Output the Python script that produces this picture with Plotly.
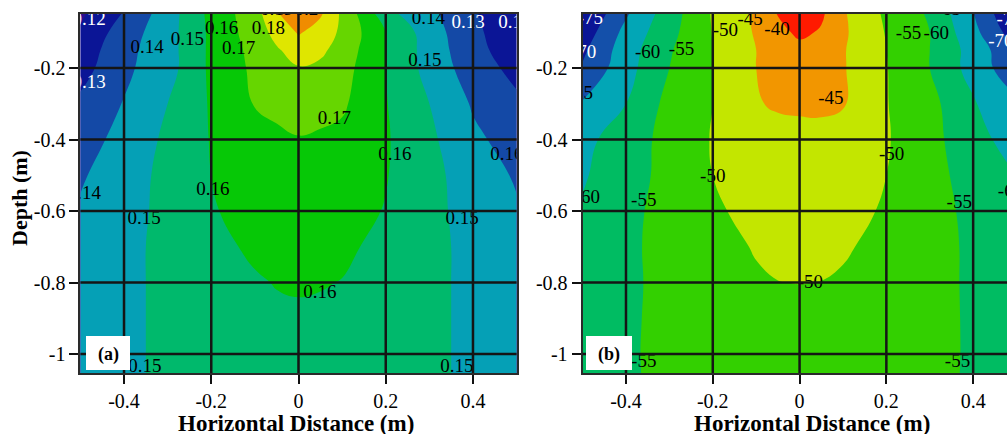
import plotly.graph_objects as go

# ---------------------------------------------------------------- grid (m)
x_pos = [-0.5, -0.4, -0.3, -0.2, -0.1, -0.05, 0.0, 0.05, 0.1, 0.2, 0.3, 0.4, 0.5]
depth = [-0.04, -0.1, -0.15, -0.2, -0.3, -0.4, -0.5, -0.6, -0.7, -0.8, -0.9, -1.0, -1.06]

# ---------------------------------------------------------------- panel (a)
field_a = [
    [0.118, 0.130, 0.145, 0.163, 0.176, 0.190, 0.201, 0.192, 0.178, 0.152, 0.142, 0.131, 0.121],
    [0.121, 0.135, 0.146, 0.162, 0.175, 0.183, 0.191, 0.186, 0.178, 0.160, 0.145, 0.132, 0.124],
    [0.124, 0.137, 0.146, 0.162, 0.173, 0.179, 0.184, 0.182, 0.176, 0.160, 0.146, 0.133, 0.125],
    [0.126, 0.138, 0.146, 0.162, 0.172, 0.176, 0.1795, 0.178, 0.174, 0.160, 0.1465, 0.135, 0.127],
    [0.132, 0.1405, 0.150, 0.161, 0.1705, 0.1725, 0.174, 0.1735, 0.1715, 0.1605, 0.150, 0.139, 0.132],
    [0.136, 0.143, 0.152, 0.1605, 0.1665, 0.168, 0.1695, 0.1685, 0.1675, 0.161, 0.152, 0.142, 0.136],
    [0.139, 0.145, 0.153, 0.160, 0.165, 0.166, 0.1665, 0.1665, 0.1655, 0.1605, 0.153, 0.145, 0.139],
    [0.141, 0.146, 0.153, 0.1592, 0.1635, 0.1645, 0.165, 0.1648, 0.1638, 0.1595, 0.153, 0.146, 0.141],
    [0.143, 0.147, 0.153, 0.158, 0.1612, 0.1625, 0.163, 0.1628, 0.1614, 0.158, 0.153, 0.147, 0.143],
    [0.144, 0.147, 0.153, 0.157, 0.1593, 0.1603, 0.1607, 0.1604, 0.1598, 0.157, 0.153, 0.147, 0.144],
    [0.145, 0.147, 0.153, 0.156, 0.158, 0.1588, 0.159, 0.1588, 0.158, 0.156, 0.153, 0.147, 0.145],
    [0.145, 0.147, 0.153, 0.1555, 0.157, 0.158, 0.1583, 0.158, 0.157, 0.1555, 0.153, 0.147, 0.145],
    [0.145, 0.147, 0.153, 0.155, 0.1565, 0.1575, 0.158, 0.1577, 0.1567, 0.155, 0.153, 0.147, 0.145],
]
levels_a = [0.12, 0.13, 0.14, 0.15, 0.16, 0.17, 0.18, 0.19, 0.20]
colors_a = ["#2c0c8e", "#0b1596", "#1449a6", "#05a0b6", "#00b96c", "#06c806",
            "#66d600", "#dfe600", "#f08c00", "#ff2000"]

lab_a_x = [-0.48, -0.347, -0.255, -0.176, -0.069, -0.137, -0.05, 0.018, 0.298, 0.389,
           0.496, 0.29, -0.48, 0.082, 0.221, 0.478, -0.491, -0.196, -0.354, 0.375,
           0.049, -0.352, 0.363]
lab_a_y = [-0.066, -0.146, -0.122, -0.092, -0.092, -0.147, -0.038, -0.038, -0.063, -0.0755,
           -0.0755, -0.182, -0.243, -0.344, -0.443, -0.443, -0.554, -0.543, -0.624, -0.624,
           -0.831, -1.036, -1.036]
lab_a_val = [0.12, 0.14, 0.15, 0.16, 0.18, 0.17, 0.19, 0.2, 0.14, 0.13,
             0.12, 0.15, 0.13, 0.17, 0.16, 0.16, 0.14, 0.16, 0.15, 0.15,
             0.16, 0.15, 0.15]
lab_a_white = [0.12, 0.13]

# ---------------------------------------------------------------- panel (b)
field_b = [
    [-75.5, -66, -57.5, -49.5, -44, -39.5, -37, -39, -44.5, -51, -55.8, -65, -76],
    [-73, -63.5, -56.5, -49.8, -44.5, -41.5, -39, -40.5, -44.2, -50.3, -55, -63.5, -73],
    [-71, -62.3, -55.5, -50, -45, -43, -41.5, -42.5, -44.6, -50, -55, -62, -69.5],
    [-69.5, -61.8, -55, -50, -45, -44, -43, -43.3, -44.6, -49.8, -55, -62, -68.5],
    [-64.5, -60, -53.5, -50, -45.3, -44.5, -44.2, -44.2, -44.6, -49.8, -53.5, -59.5, -64],
    [-61.5, -57.3, -53.5, -49.7, -47, -46.5, -46.5, -46.3, -46.8, -49.6, -53.5, -58, -62.5],
    [-60.5, -57, -53.5, -50, -48, -47.5, -47.2, -47.2, -47.8, -50, -53.3, -57, -60],
    [-59.5, -56.5, -53, -50.6, -48.8, -48.3, -48, -48, -48.5, -50.5, -53, -56.3, -59],
    [-58.5, -56, -53.3, -51.5, -49.7, -49.2, -49, -49, -49.5, -51.3, -53.3, -55.8, -58.3],
    [-58, -56, -53.5, -52, -50.5, -50.05, -49.95, -50.05, -50.5, -52, -53.5, -55.7, -58],
    [-57.8, -55.8, -53.6, -52.3, -51.3, -51, -50.9, -51, -51.3, -52.3, -53.6, -55.6, -57.8],
    [-57.5, -55.6, -53.8, -52.7, -52, -51.7, -51.6, -51.7, -52, -52.7, -53.8, -55.5, -57.5],
    [-57.4, -55.6, -53.9, -52.8, -52.1, -51.9, -51.8, -51.9, -52.1, -52.8, -53.9, -55.5, -57.4],
]
levels_b = [-75, -70, -65, -60, -55, -50, -45, -40]
colors_b = ["#0b1596", "#0b1596", "#1450aa", "#02a6b6", "#00bc62", "#33d000",
            "#c3e600", "#f29600", "#ff1a00"]

lab_b_x = [-0.482, -0.498, -0.35, -0.272, -0.171, -0.114, -0.052, 0.251, 0.315, 0.343,
           0.483, 0.464, -0.505, 0.072, 0.212, -0.2, -0.489, -0.359, 0.368, 0.486,
           0.025, -0.359, 0.364]
lab_b_y = [-0.063, -0.159, -0.159, -0.151, -0.098, -0.067, -0.095, -0.106, -0.106, -0.038,
           -0.066, -0.127, -0.273, -0.288, -0.445, -0.506, -0.565, -0.573, -0.579, -0.548,
           -0.803, -1.024, -1.024]
lab_b_val = [-75, -70, -60, -55, -50, -45, -40, -55, -60, -65,
             -75, -70, -65, -45, -50, -50, -60, -55, -55, -60,
             -50, -55, -55]
lab_b_white = [-75, -70]

# ---------------------------------------------------------------- axes / ticks
x_ticks = [-0.4, -0.2, 0.0, 0.2, 0.4]
x_ticktext = ["-0.4", "-0.2", "0", "0.2", "0.4"]
y_ticks = [-0.2, -0.4, -0.6, -0.8, -1.0]
y_ticktext = ["-0.2", "-0.4", "-0.6", "-0.8", "-1"]

W, H = 1007, 434
SERIF = "Liberation Serif, Times New Roman, serif"


def band_scale(colors):
    n = len(colors) - 1
    return [[k / n, c] for k, c in enumerate(colors)]


def contour(z, levels, colors, xa, ya):
    step = round(levels[1] - levels[0], 6)
    return go.Contour(
        x=x_pos, y=depth, z=z, xaxis=xa, yaxis=ya,
        contours=dict(start=levels[0], end=levels[-1], size=step, coloring="fill",
                      showlines=False),
        line=dict(width=0, smoothing=1.3),
        colorscale=band_scale(colors), zauto=False,
        zmin=levels[0] - step / 2, zmax=levels[-1] + step / 2,
        showscale=False, hoverinfo="skip",
    )


def labels(xs, ys, vals, white, xa, ya):
    return go.Scatter(
        x=xs, y=ys, mode="text", xaxis=xa, yaxis=ya,
        text=[f"{v:g}" for v in vals],
        textfont=dict(family=SERIF, size=19,
                      color=["white" if v in white else "black" for v in vals]),
        cliponaxis=True, hoverinfo="skip", showlegend=False,
    )


fig = go.Figure()
fig.add_trace(contour(field_a, levels_a, colors_a, "x", "y"))
fig.add_trace(contour(field_b, levels_b, colors_b, "x2", "y2"))
fig.add_trace(labels(lab_a_x, lab_a_y, lab_a_val, lab_a_white, "x", "y"))
fig.add_trace(labels(lab_b_x, lab_b_y, lab_b_val, lab_b_white, "x2", "y2"))

dom_a = [80.4 / W, 516.6 / W]
dom_b = [582.6 / W, 1.0]
dom_y = [1 - 373 / H, 1 - 14 / H]
y_range = [-1.053, -0.049]

tickfont = dict(family=SERIF, size=20, color="black")
common_x = dict(tickvals=x_ticks, ticktext=x_ticktext, ticks="outside", ticklen=9,
                tickwidth=2, tickcolor="#111", tickfont=tickfont, showgrid=False,
                zeroline=False, showline=True, linecolor="#2a2a2a", linewidth=2,
                mirror=True, layer="above traces", automargin=False)
common_y = dict(tickvals=y_ticks, ticktext=y_ticktext, ticks="outside", ticklen=9,
                tickwidth=2, tickcolor="#111", tickfont=tickfont, showgrid=False,
                zeroline=False, showline=True, linecolor="#2a2a2a", linewidth=2,
                layer="above traces", automargin=False, range=y_range, domain=dom_y)

shapes = []
# grid lines drawn over the filled contours
for xr, yr in (("x", "y domain"), ("x2", "y2 domain")):
    for xv in x_ticks:
        shapes.append(dict(type="line", xref=xr, yref=yr, x0=xv, x1=xv, y0=0, y1=1,
                           line=dict(color="#151515", width=2.5), layer="above"))
for xr, yr in (("x domain", "y"), ("x2 domain", "y2")):
    for yv in y_ticks:
        shapes.append(dict(type="line", xref=xr, yref=yr, x0=0, x1=1, y0=yv, y1=yv,
                           line=dict(color="#151515", width=2.5), layer="above"))
# panel tags
for x0, x1 in ((86, 130), (586, 632)):
    shapes.append(dict(type="rect", xref="paper", yref="paper",
                       x0=x0 / W, x1=x1 / W, y0=1 - 370 / H, y1=1 - 336 / H,
                       fillcolor="white", line=dict(width=0), layer="above"))


def note(text, px, py, size, angle=0):
    return dict(text=text, x=px / W, y=1 - py / H, xref="paper", yref="paper",
                xanchor="center", yanchor="middle", showarrow=False, textangle=angle,
                font=dict(family=SERIF, size=size, color="black"))


annotations = [
    note("<b>(a)</b>", 108, 354, 18),
    note("<b>(b)</b>", 609, 354, 18),
    note("<b>Horizontal Distance (m)</b>", 296, 423, 23),
    note("<b>Horizontal Distance (m)</b>", 812, 423, 23),
    note("<b>Depth (m)</b>", 19, 198, 22, -90),
]

fig.update_layout(
    width=W, height=H, template="none",
    margin=dict(l=0, r=0, t=0, b=0, pad=0),
    paper_bgcolor="white", plot_bgcolor="white", showlegend=False,
    xaxis=dict(common_x, domain=dom_a, range=[-0.5, 0.5], anchor="y"),
    yaxis=dict(common_y, anchor="x", mirror=True),
    xaxis2=dict(common_x, domain=dom_b, range=[-0.5, 0.478], anchor="y2"),
    yaxis2=dict(common_y, anchor="x2", mirror=False),
    shapes=shapes, annotations=annotations,
)

fig.write_html("out.html")
